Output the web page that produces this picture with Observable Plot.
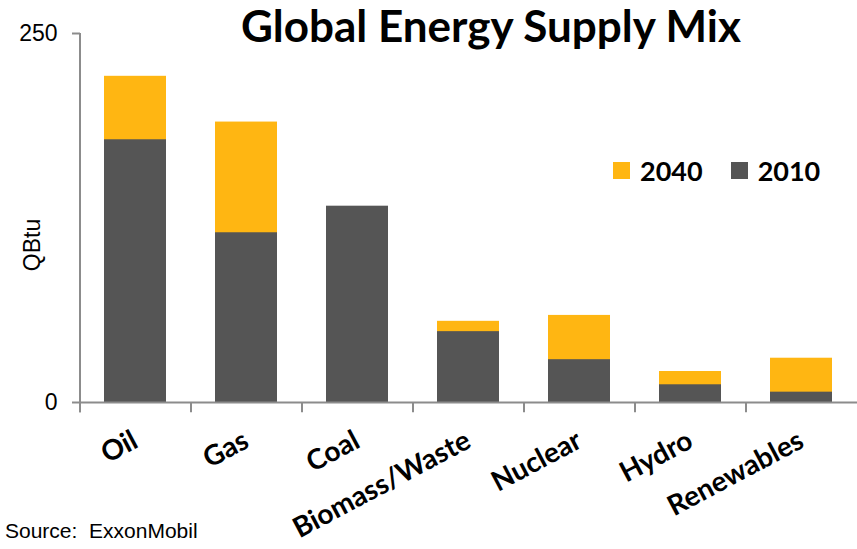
<!DOCTYPE html>
<html><head><meta charset="utf-8">
<script src="https://cdn.jsdelivr.net/npm/d3@7"></script>
<script src="https://cdn.jsdelivr.net/npm/@observablehq/plot@0.6"></script>
<style>
body{margin:0;background:#fff;}
#wrap{position:relative;width:857px;height:549px;overflow:hidden;background:#fff;}
#wrap svg{position:absolute;left:0;top:0;}
.title{position:absolute;left:0;width:982px;top:-1px;text-align:center;font-family:Lato,sans-serif;font-weight:700;font-size:44px;color:#000;white-space:nowrap;}
.legend{position:absolute;top:154px;left:613px;font-family:Lato,sans-serif;font-weight:700;font-size:27px;color:#000;white-space:nowrap;display:flex;align-items:center;}
.sw{display:inline-block;width:17px;height:17px;margin-right:10px;}
.source{position:absolute;left:5px;top:519px;font-family:"Liberation Sans",Arial,sans-serif;font-size:21px;color:#000;white-space:pre;}
.ylab{position:absolute;left:32px;top:245px;transform:translate(-50%,-50%) rotate(-90deg);font-family:"Liberation Sans",Arial,sans-serif;font-size:23px;color:#000;white-space:nowrap;}
</style></head><body><div id="wrap"></div>
<script>
const categories = ["Oil","Gas","Coal","Biomass/Waste","Nuclear","Hydro","Renewables"];
const values2010 = [178,115,133,48,29,12,7];
const values2040 = [221,190,130,55,59,21,30];
const seriesNames = ["2040","2010"];
const seriesColors = ["#FFB612","#555555"];
const yTicks = [0,250];
const yLabel = "QBtu";
const titleText = "Global Energy Supply Mix";
const sourceText = "Source:  ExxonMobil";

const d2010 = categories.map((c,i)=>({cat:c, v:values2010[i]}));
const d2040 = categories.map((c,i)=>({cat:c, v:values2040[i]}));

const W = 857, H = 549, mL = 80, mR = 0, mT = 33, mB = 147;
const half = (W - mL - mR) / categories.length / 2;
const axisGray = "#8c8c8c";

const chart = Plot.plot({
  width: W, height: H,
  marginLeft: mL, marginRight: mR, marginTop: mT, marginBottom: mB,
  style: {background: "transparent", overflow: "visible"},
  x: {domain: categories, paddingInner: 0.44, paddingOuter: 0.22, axis: null},
  y: {domain: [0,250], axis: null},
  marks: [
    Plot.barY(d2040, {x: "cat", y: "v", fill: seriesColors[0]}),
    Plot.barY(d2010, {x: "cat", y: "v", fill: seriesColors[1]}),
    Plot.ruleY([0], {stroke: axisGray, strokeWidth: 2}),
    Plot.ruleX([categories[0]], {x: d=>d, y1: -7, y2: 250, dx: -half, stroke: axisGray, strokeWidth: 2}),
    Plot.ruleX(categories, {x: d=>d, y1: 0, y2: -7, dx: -half, stroke: axisGray, strokeWidth: 2}),
    Plot.axisY({ticks: yTicks, tickSize: 8, tickPadding: 15, stroke: axisGray, strokeWidth: 2, fill: "#000", fontSize: 23, fontFamily: "Liberation Sans, Arial, sans-serif", label: null}),
    Plot.axisX({tickSize: 0, tickRotate: -28, tickPadding: 36, fontSize: 28, fontWeight: "bold", fontFamily: "Lato, sans-serif", fill: "#000", label: null})
  ]
});

const wrap = document.getElementById("wrap");
wrap.appendChild(chart);

const yl = document.createElement("div");
yl.className = "ylab"; yl.textContent = yLabel;
wrap.appendChild(yl);

const t = document.createElement("div");
t.className = "title"; t.textContent = titleText;
wrap.appendChild(t);

const lg = document.createElement("div");
lg.className = "legend";
seriesNames.forEach((n,i)=>{
  const sw = document.createElement("span"); sw.className = "sw"; sw.style.background = seriesColors[i];
  const tx = document.createElement("span"); tx.textContent = n; tx.style.marginRight = i===0 ? "28px" : "0";
  lg.appendChild(sw); lg.appendChild(tx);
});
wrap.appendChild(lg);

const s = document.createElement("div");
s.className = "source"; s.textContent = sourceText;
wrap.appendChild(s);
</script></body></html>
